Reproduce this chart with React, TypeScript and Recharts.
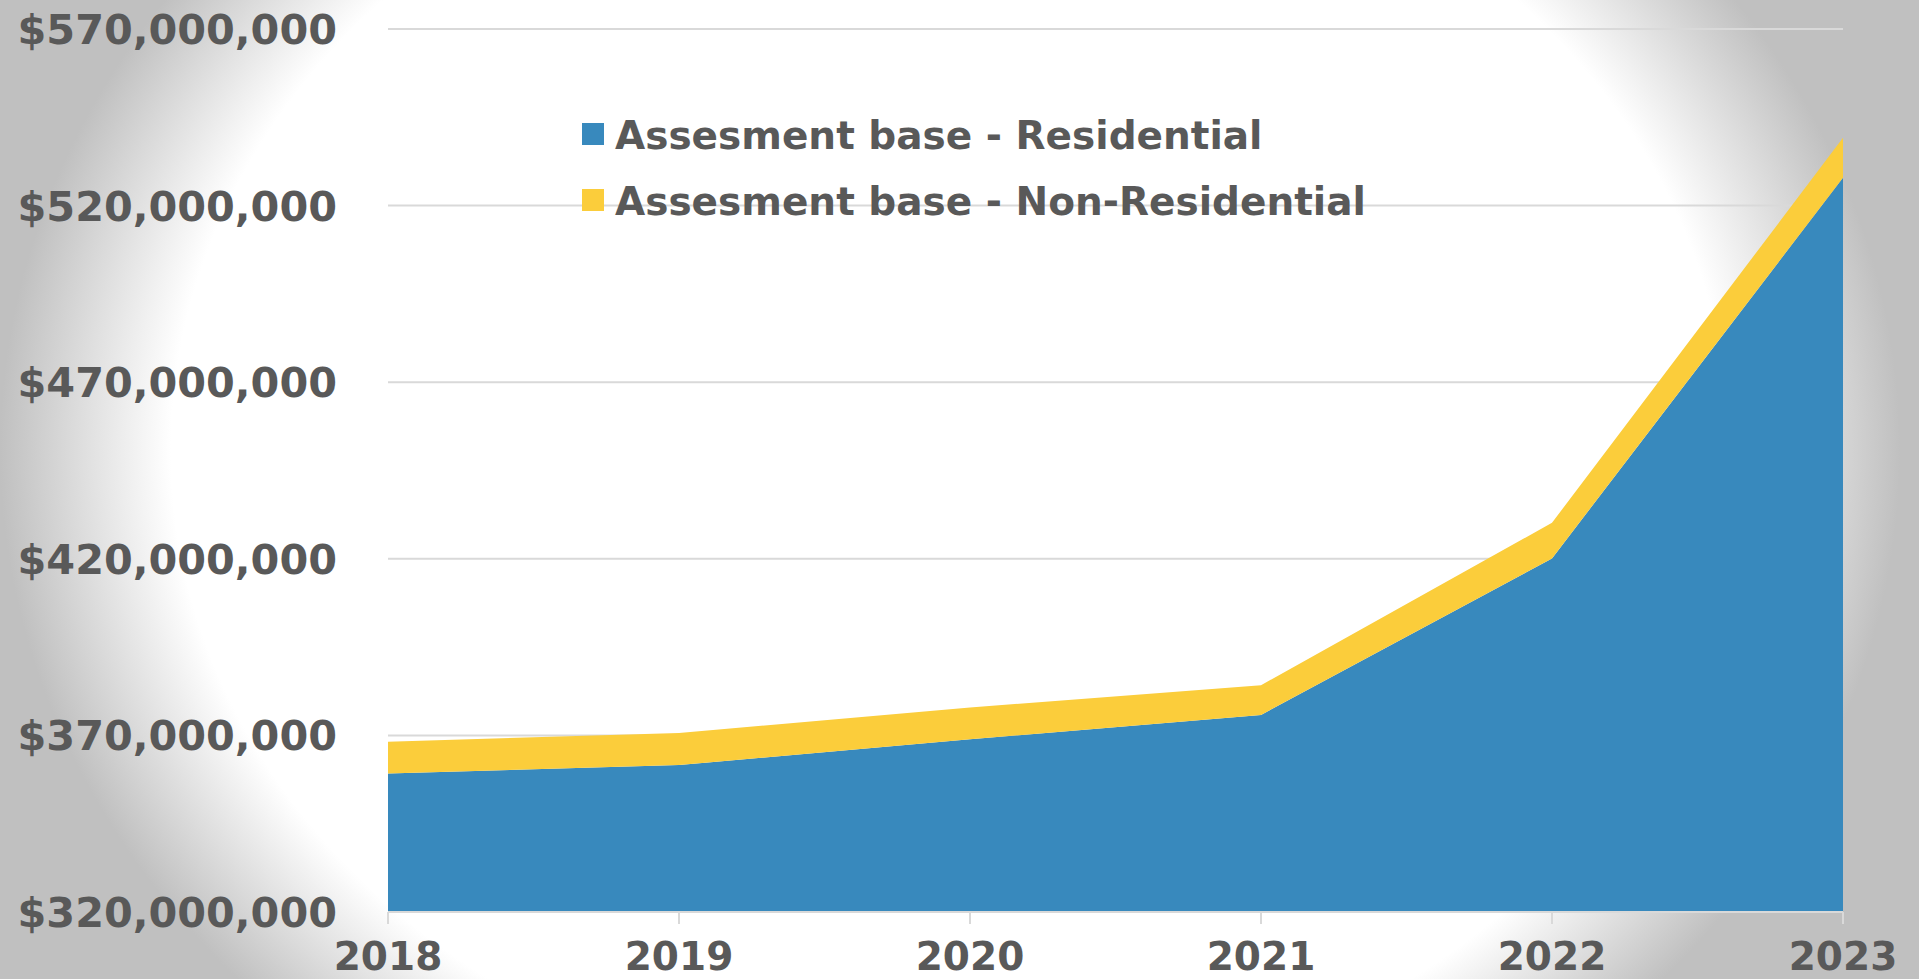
import React from 'react';
import { AreaChart, Area, XAxis, YAxis, CartesianGrid, Legend } from 'recharts';

const years = ['2018', '2019', '2020', '2021', '2022', '2023'];
const residential = [359200000, 361600000, 368900000, 375800000, 420100000, 527900000];
const nonResidential = [9000000, 9100000, 9000000, 8400000, 10100000, 11300000];
const yTicks = [320000000, 370000000, 420000000, 470000000, 520000000, 570000000];
const seriesNames = ['Assesment base - Residential', 'Assesment base - Non-Residential'];
const seriesColors = ['#3889BD', '#FBCD3B'];

const data = years.map((year, i) => ({
  year,
  res: residential[i],
  non: nonResidential[i],
}));

const FONT = "'DejaVu Sans', sans-serif";
const TEXT = '#595959';

const fmt = (v: number) => '$' + v.toLocaleString('en-US');

const YTick = (props: any) => {
  const { x, y, payload } = props;
  return (
    <text x={x} y={y + 15} textAnchor="end" fontFamily={FONT} fontWeight={700} fontSize={41.4} fill={TEXT}>
      {fmt(payload.value)}
    </text>
  );
};

const XTick = (props: any) => {
  const { x, y, payload } = props;
  return (
    <text x={x} y={y + 46} textAnchor="middle" fontFamily={FONT} fontWeight={700} fontSize={39} fill={TEXT}>
      {payload.value}
    </text>
  );
};

const LegendContent = () => (
  <svg width={820} height={120} style={{ display: 'block' }}>
    {seriesNames.map((name, i) => (
      <g key={name}>
        <rect x={0} y={18 + i * 66} width={22} height={22} fill={seriesColors[i]} />
        <text x={33} y={44 + i * 66} fontFamily={FONT} fontWeight={700} fontSize={39} fill={TEXT}>
          {name}
        </text>
      </g>
    ))}
  </svg>
);

export default function App() {
  return (
    <div
      style={{
        position: 'absolute',
        left: 0,
        top: 0,
        width: 1919,
        height: 979,
        overflow: 'hidden',
        background: 'radial-gradient(ellipse 950px 800px at 950px 450px, #ffffff 82%, #c0c0c0 100%)',
      }}
    >
      <AreaChart
        width={1919}
        height={979}
        data={data}
        margin={{ top: 29, right: 76, bottom: 0, left: 0 }}
      >
        <CartesianGrid horizontal vertical={false} stroke="#d9d9d9" strokeWidth={2} />
        <XAxis
          dataKey="year"
          height={67}
          tickSize={12}
          tickMargin={0}
          stroke="#d9d9d9"
          strokeWidth={2}
          tick={<XTick />}
          interval={0}
        />
        <YAxis
          width={388}
          domain={[320000000, 570000000]}
          ticks={yTicks}
          allowDataOverflow
          axisLine={false}
          tickLine={false}
          tickSize={0}
          tickMargin={51}
          tick={<YTick />}
        />
        <Legend
          layout="vertical"
          align="center"
          verticalAlign="middle"
          wrapperStyle={{ left: 582, top: 105, width: 820 }}
          content={<LegendContent />}
        />
        <Area
          type="linear"
          dataKey="res"
          name={seriesNames[0]}
          stackId="1"
          stroke="none"
          fill={seriesColors[0]}
          fillOpacity={1}
          isAnimationActive={false}
        />
        <Area
          type="linear"
          dataKey="non"
          name={seriesNames[1]}
          stackId="1"
          stroke="none"
          fill={seriesColors[1]}
          fillOpacity={1}
          isAnimationActive={false}
        />
      </AreaChart>
    </div>
  );
}
